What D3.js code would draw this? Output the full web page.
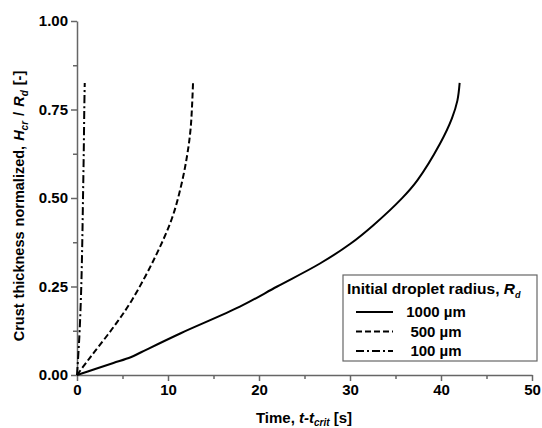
<!DOCTYPE html>
<html>
<head>
<meta charset="utf-8">
<script src="https://cdn.jsdelivr.net/npm/d3@7"></script>
<style>
  body { margin: 0; background: #fff; }
  text { font-family: "Liberation Sans", Arial, sans-serif; font-weight: bold; }
</style>
</head>
<body>
<svg id="chart" width="542" height="428"></svg>
<script>
// values: [time t-t_crit (s), H_cr/R_d]
var r1000 = [[0, 0], [2, 0.017], [4, 0.034], [5.9, 0.05], [7.1, 0.065], [11.4, 0.118],
  [17.9, 0.193], [22, 0.25], [26.7, 0.315], [30, 0.37], [32.6, 0.424], [35.7, 0.499],
  [37.4, 0.55], [39.9, 0.654], [41.2, 0.725], [41.8, 0.775], [42.05, 0.825]];
var r500 = [[0, 0], [1.1, 0.038], [2, 0.068], [4, 0.135], [6, 0.21], [8.6, 0.334],
  [10.4, 0.44], [11.4, 0.53], [12.1, 0.62], [12.5, 0.7], [12.75, 0.825]];
var r100 = [[0, 0], [0.15, 0.06], [0.29, 0.125], [0.47, 0.25], [0.58, 0.375],
  [0.66, 0.5], [0.74, 0.625], [0.8, 0.75], [0.85, 0.825]];

var xTicks = [0, 10, 20, 30, 40, 50];
var yTicks = [0, 0.25, 0.5, 0.75, 1.0];
var legendLabels = ["1000 \u00b5m", "500 \u00b5m", "100 \u00b5m"];
var dashes = ["none", "6,3", "8,3,2,3"];

var svg = d3.select("#chart");
var mLeft = 77, mRight = 532, mTop = 21, mBottom = 375;

var x = d3.scaleLinear().domain([0, 50]).range([mLeft, mRight]);
var y = d3.scaleLinear().domain([0, 1]).range([mBottom, mTop]);

// minor ticks first
svg.append("g")
  .attr("transform", "translate(0," + mBottom + ")")
  .call(d3.axisBottom(x).tickValues(d3.range(5, 50, 10)).tickSize(4).tickFormat(""))
  .call(function (g) { g.select(".domain").remove(); });
svg.append("g")
  .attr("transform", "translate(" + mLeft + ",0)")
  .call(d3.axisLeft(y).tickValues(d3.range(0.125, 1, 0.25)).tickSize(4).tickFormat(""))
  .call(function (g) { g.select(".domain").remove(); });

svg.append("g")
  .attr("transform", "translate(0," + mBottom + ")")
  .call(d3.axisBottom(x).tickValues(xTicks).tickSize(6).tickSizeOuter(0).tickPadding(3));
svg.append("g")
  .attr("transform", "translate(" + mLeft + ",0)")
  .call(d3.axisLeft(y).tickValues(yTicks).tickSize(6).tickSizeOuter(0)
    .tickPadding(3).tickFormat(d3.format(".2f")));

svg.selectAll(".domain, .tick line").attr("stroke", "#666").attr("stroke-width", 1.5);
svg.selectAll(".tick text").attr("fill", "#000").style("font-size", "15px")
  .style("font-family", "Liberation Sans, Arial, sans-serif").style("font-weight", "bold");

// curves
var line = d3.line()
  .x(function (d) { return x(d[0]); })
  .y(function (d) { return y(d[1]); })
  .curve(d3.curveCatmullRom.alpha(0.5));

[r1000, r500, r100].forEach(function (s, i) {
  svg.append("path")
    .datum(s)
    .attr("d", line)
    .attr("fill", "none")
    .attr("stroke", "#000")
    .attr("stroke-width", 2)
    .attr("stroke-dasharray", dashes[i]);
});

// axis titles
var xt = svg.append("text").attr("x", 304).attr("y", 423)
  .attr("text-anchor", "middle").style("font-size", "15px");
xt.append("tspan").text("Time, ");
xt.append("tspan").style("font-style", "italic").text("t-t");
xt.append("tspan").style("font-style", "italic").style("font-size", "10px")
  .attr("dy", 3).text("crit");
xt.append("tspan").attr("dy", -3).text(" [s]");

var yt = svg.append("text")
  .attr("transform", "translate(24," + ((mTop + mBottom) / 2 + 8) + ") rotate(-90)")
  .attr("text-anchor", "middle").style("font-size", "14.5px").style("word-spacing", "1px");
yt.append("tspan").text("Crust thickness normalized, ");
yt.append("tspan").style("font-style", "italic").text("H");
yt.append("tspan").style("font-style", "italic").style("font-size", "10px")
  .attr("dy", 4).text("cr");
yt.append("tspan").attr("dy", -4).text(" / ");
yt.append("tspan").style("font-style", "italic").text("R");
yt.append("tspan").style("font-style", "italic").style("font-size", "10px")
  .attr("dy", 4).text("d");
yt.append("tspan").attr("dy", -4).text(" [-]");

// legend
var lg = svg.append("g");
lg.append("rect").attr("x", 343).attr("y", 275).attr("width", 194).attr("height", 86)
  .attr("fill", "#fff").attr("stroke", "#666").attr("stroke-width", 1.2);
var lt = lg.append("text").attr("x", 347).attr("y", 294).style("font-size", "15.5px");
lt.append("tspan").text("Initial droplet radius, ");
lt.append("tspan").style("font-style", "italic").text("R");
lt.append("tspan").style("font-style", "italic").style("font-size", "9px")
  .attr("dy", 4).text("d");

legendLabels.forEach(function (lab, i) {
  var ly = 312 + i * 19.5;
  lg.append("line").attr("x1", 356).attr("x2", 393).attr("y1", ly).attr("y2", ly)
    .attr("stroke", "#000").attr("stroke-width", 2).attr("stroke-dasharray", dashes[i]);
  lg.append("text").attr("x", 436).attr("y", ly + 5).attr("text-anchor", "middle")
    .style("font-size", "15px").text(lab);
});
</script>
</body>
</html>
